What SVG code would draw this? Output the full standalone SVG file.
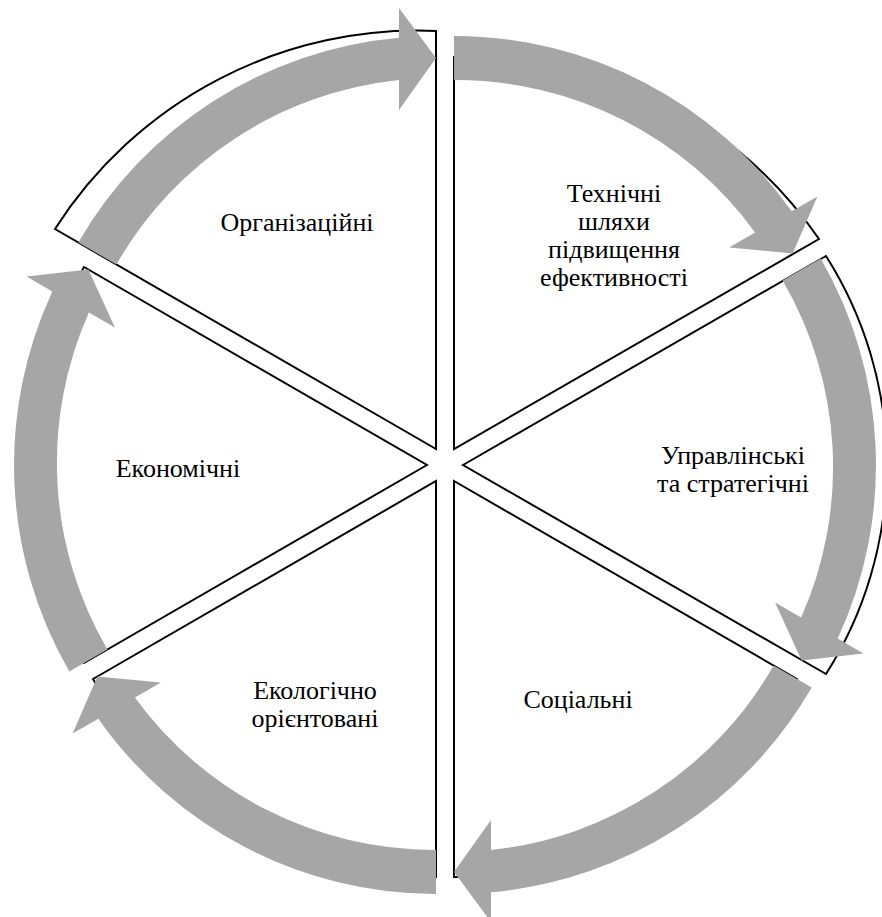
<svg xmlns="http://www.w3.org/2000/svg" width="882" height="917" viewBox="0 0 882 917">
<style>
.sec{fill:#FFFFFF;stroke:#000000;stroke-width:2;stroke-linejoin:miter}
.arr{fill:#A6A6A6;stroke:none}
.lbl{font-size:26px;fill:#000000;text-anchor:middle}
</style>
<rect x="0" y="0" width="882" height="917" fill="#FFFFFF"/>
<g id="sectors">
<g id="s1"><path class="sec" d="M454,449 L454,57 A420,420 0 0 1 819,239 Z"/></g>
<g id="s2"><path class="sec" d="M463,465 L826,256 A390,390 0 0 1 826,674 Z"/></g>
<g id="s3"><path class="sec" d="M454,481 L797,679 A396,396 0 0 1 454,877 Z"/></g>
<g id="s4"><path class="sec" d="M436,481 L436,877 A396,396 0 0 1 93,679 Z"/></g>
<g id="s5"><path class="sec" d="M427,465 L84,663 A396,396 0 0 1 84,267 Z"/></g>
<g id="s6"><path class="sec" d="M436,449 L55,229 A430,430 0 0 1 436,31 Z"/></g>
</g>
<g id="connectors">
<path class="arr" d="M454,36 A413,413 0 0 1 791.7,211.3 L817.4,196.5 L792.6,253.5 L729.1,247.5 L755.1,232.5 A370,370 0 0 0 454,80 Z"/>
<path class="arr" d="M820.7,258.5 A413,413 0 0 1 837.7,638.6 L863.4,653.5 L801.6,660.5 L775.1,602.5 L801.1,617.5 A370,370 0 0 0 782.6,280.5 Z"/>
<path class="arr" d="M811.7,687.5 A413,413 0 0 1 491,892.3 L491,922 L454,872 L491,820 L491,850 A370,370 0 0 0 773.6,665.5 Z"/>
<path class="arr" d="M436,894 A413,413 0 0 1 98.3,718.7 L72.6,733.5 L97.4,676.5 L160.9,682.5 L134.9,697.5 A370,370 0 0 0 436,850 Z"/>
<path class="arr" d="M69.3,671.5 A413,413 0 0 1 52.3,291.5 L26.6,276.5 L88.4,269.5 L114.9,327.5 L88.9,312.5 A370,370 0 0 0 107.4,649.5 Z"/>
<path class="arr" d="M78.3,242.5 A413,413 0 0 1 398.9,37.7 L399,8 L436,58 L399,110 L399,80 A370,370 0 0 0 116.4,264.5 Z"/>
</g>
<g id="labels" font-family="'Liberation Serif', 'Times New Roman', serif">
<g id="t6"><text class="lbl" x="297" y="231">Організаційні</text></g>
<g id="t1"><text class="lbl" x="614" y="202">Технічні</text><text class="lbl" x="614" y="230">шляхи</text><text class="lbl" x="614" y="258">підвищення</text><text class="lbl" x="614" y="286">ефективності</text></g>
<g id="t2"><text class="lbl" x="733" y="464">Управлінські</text><text class="lbl" x="733" y="492">та стратегічні</text></g>
<g id="t3"><text class="lbl" x="578" y="708">Соціальні</text></g>
<g id="t4"><text class="lbl" x="315" y="699">Екологічно</text><text class="lbl" x="315" y="727">орієнтовані</text></g>
<g id="t5"><text class="lbl" x="178" y="477">Економічні</text></g>
</g>
</svg>
